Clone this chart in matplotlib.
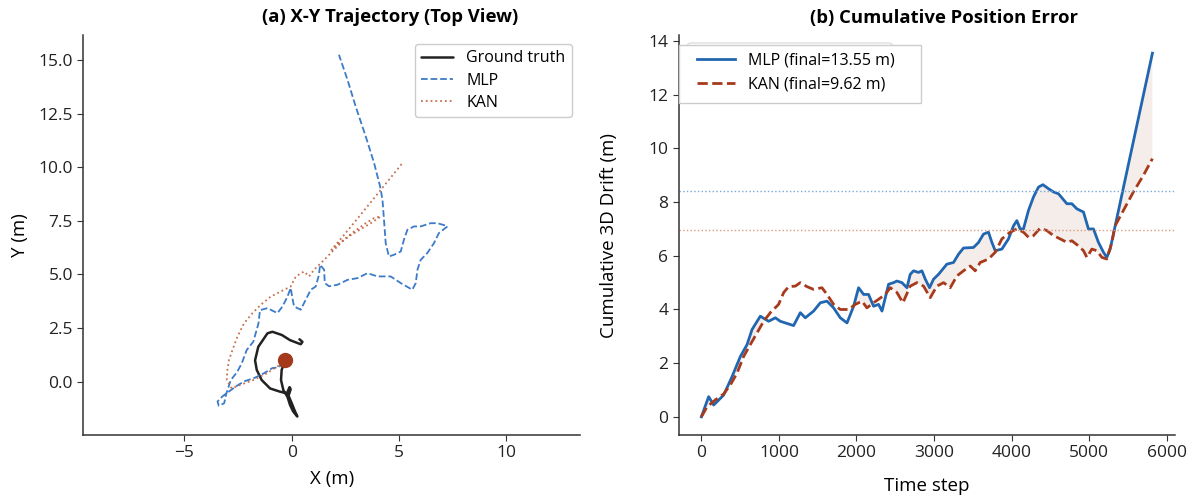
import numpy as np
import matplotlib
matplotlib.use("Agg")
import matplotlib.pyplot as plt
from matplotlib.patches import FancyBboxPatch, Rectangle

plt.rcParams['font.family'] = ['Open Sans', 'DejaVu Sans']

# ---- (a) trajectories, metres ----
gt_x = [-0.31, -0.47, -0.50, -0.39, -0.20, -0.08, 0.07, 0.26, 0.12, -0.02, -0.15, -0.05, -0.10,
        -0.23, -0.55, -1.01, -1.40, -1.63, -1.71, -1.56, -1.13, -0.90, -0.46, -0.08, 0.31, 0.42,
        0.50, 0.36]
gt_y = [1.01, 0.55, 0.08, -0.39, -0.70, -1.08, -1.39, -1.62, -1.30, -0.95, -0.65, -0.35, -0.25,
        -0.54, -0.46, -0.31, 0.08, 0.55, 1.00, 1.63, 2.26, 2.33, 2.18, 1.94, 1.79, 1.75,
        1.86, 1.98]

mlp_x = [-0.35, -0.62, -0.90, -1.29, -1.76, -2.22, -2.61, -2.92, -3.23, -3.46, -3.40, -3.15, -3.05,
         -2.84, -2.55, -2.33, -2.10, -1.79, -1.55, -1.48, -1.13, -0.67, -0.43, -0.20, -0.05, 0.05,
         0.11, 0.42, 0.65, 0.89, 1.12, 1.27, 1.32, 1.51, 1.54, 1.74, 2.13, 2.60, 3.06, 3.53, 4.00,
         4.61, 5.08, 5.62, 5.78, 5.86, 6.01, 6.32, 6.63, 6.86, 7.26, 7.10, 6.79, 6.48, 6.01, 5.70,
         5.39, 5.23, 5.08, 4.77, 4.53, 4.38, 4.30, 4.23, 4.12, 3.84, 3.45, 2.98, 2.60, 2.20]
mlp_y = [0.90, 0.67, 0.64, 0.40, 0.17, 0.02, -0.22, -0.45, -0.68, -0.92, -1.12, -1.00, -0.55,
         0.08, 0.45, 0.86, 1.48, 1.87, 2.72, 3.34, 3.43, 3.20, 3.51, 3.97, 4.37, 3.80,
         3.51, 3.36, 3.82, 4.29, 4.44, 4.99, 5.45, 5.22, 4.60, 4.45, 4.52, 4.75, 4.83, 5.06, 4.91,
         4.91, 4.60, 4.29, 4.60, 5.22, 5.68, 6.00, 6.46, 6.93, 7.24, 7.30, 7.39, 7.39, 7.24, 7.24,
         7.08, 6.62, 6.07, 5.92, 5.84, 6.46, 7.55, 8.48, 9.10, 10.19, 11.43, 12.83, 14.07, 15.24]

kan_x = [-0.40, -0.70, -1.17, -1.79, -2.41, -2.80, -3.03, -3.00, -2.92, -2.76, -2.53, -2.22, -1.83,
         -1.44, -0.98, -0.51, -0.05, 0.19, 0.57, 0.81, 1.04, 1.51, 1.97, 2.44, 2.90, 3.45, 3.84,
         4.15, 3.70, 3.20, 2.70, 2.20, 1.85, 2.28, 3.06, 3.84, 4.30, 5.16]
kan_y = [0.85, 0.70, 0.39, 0.08, -0.15, -0.31, 0.08, 0.56, 1.03, 1.49, 2.11, 2.73, 3.20,
         3.59, 3.97, 4.21, 4.44, 4.91, 5.14, 4.91, 5.22, 5.68, 6.15, 6.62, 7.00, 7.39, 7.63,
         7.70, 7.40, 7.10, 6.80, 6.45, 6.15, 6.65, 7.60, 8.56, 9.13, 10.19]

start_xy = (-0.31, 1.01)

# ---- (b) cumulative 3D drift ----
t_mlp = [0, 94, 159, 287, 396, 503, 589, 653, 760, 867, 954, 1018, 1189, 1276, 1340, 1447, 1534,
         1620, 1705, 1791, 1878, 1963, 2027, 2092, 2156, 2220, 2285, 2329, 2414, 2478, 2522, 2586,
         2651, 2693, 2736, 2800, 2844, 2887, 2942, 2994, 3058, 3166, 3251, 3316, 3380, 3509, 3574,
         3638, 3702, 3746, 3789, 3875, 3960, 4025, 4068, 4111, 4153, 4218, 4282, 4347, 4404, 4476,
         4540, 4605, 4713, 4777, 4842, 4927, 4991, 5056, 5120, 5185, 5228, 5271, 5816]
d_mlp = [0, 0.75, 0.44, 0.81, 1.50, 2.25, 2.69, 3.25, 3.75, 3.56, 3.69, 3.56, 3.40, 3.88, 3.69,
         3.94, 4.25, 4.31, 4.06, 3.69, 3.50, 4.12, 4.81, 4.56, 4.56, 4.12, 4.19, 3.94, 4.94, 5.00,
         5.06, 5.00, 4.81, 5.31, 5.44, 5.38, 5.44, 5.13, 4.81, 5.13, 5.31, 5.69, 5.75, 6.06, 6.29,
         6.31, 6.50, 6.81, 6.88, 6.50, 6.19, 6.25, 6.63, 7.12, 7.31, 7.00, 7.00, 7.69, 8.19, 8.56,
         8.65, 8.50, 8.38, 8.31, 7.94, 7.94, 7.75, 7.63, 7.00, 7.00, 6.50, 6.13, 5.94, 6.25, 13.55]

t_kan = [0, 73, 180, 287, 374, 460, 545, 631, 718, 803, 889, 996, 1061, 1125, 1211, 1276, 1362,
         1447, 1555, 1620, 1705, 1791, 1898, 1985, 2071, 2135, 2220, 2285, 2371, 2436, 2522, 2599,
         2693, 2780, 2865, 2951, 3037, 3123, 3209, 3295, 3380, 3467, 3531, 3595, 3702, 3789, 3875,
         3982, 4068, 4153, 4218, 4282, 4369, 4455, 4540, 4627, 4713, 4777, 4862, 4927, 4971, 5035,
         5099, 5164, 5228, 5293, 5335, 5442, 5571, 5700, 5816]
d_kan = [0, 0.37, 0.63, 0.85, 1.19, 1.63, 2.25, 2.69, 3.13, 3.56, 3.88, 4.19, 4.63, 4.85, 4.87,
         5.00, 4.85, 4.75, 4.81, 4.56, 4.19, 4.00, 4.00, 4.19, 4.31, 4.06, 4.25, 4.38, 4.56, 4.81,
         4.63, 4.25, 4.87, 5.00, 4.87, 4.44, 4.87, 5.00, 4.81, 5.25, 5.44, 5.62, 5.44, 5.75, 5.88,
         6.13, 6.63, 6.88, 7.00, 6.88, 6.69, 6.75, 7.03, 6.94, 6.75, 6.63, 6.50, 6.56, 6.37, 6.19,
         5.94, 6.25, 6.19, 5.94, 5.88, 6.50, 7.12, 7.69, 8.38, 9.00, 9.62]

ref_mlp = 8.40
ref_kan = 6.97

c_mlp = '#2166b0'
c_kan = '#a83a1c'

fig = plt.figure(figsize=(11.97, 5.0), dpi=100)

# ---------------- (a) ----------------
ax1 = fig.add_axes([0.0697, 0.13, 0.4149, 0.80])
ax1.plot(gt_x, gt_y, color='#222222', lw=1.8, label='Ground truth', solid_capstyle='round')
ax1.plot(mlp_x, mlp_y, color='#3b7bc8', lw=1.3, ls='--', label='MLP')
ax1.plot(kan_x, kan_y, color='#c5704f', lw=1.3, ls=':', label='KAN')
ax1.plot(*start_xy, 'o', color='#a3391a', ms=10, zorder=5)
ax1.set_xlim(-9.71, 13.44)
ax1.set_ylim(-2.48, 16.16)
ax1.set_xticks([-5, 0, 5, 10])
ax1.set_yticks([0, 2.5, 5, 7.5, 10, 12.5, 15])
ax1.set_yticklabels(['0.0', '2.5', '5.0', '7.5', '10.0', '12.5', '15.0'])
ax1.set_xlabel('X (m)', fontsize=13.5, labelpad=6)
ax1.set_ylabel('Y (m)', fontsize=13.5, labelpad=7)
ax1.set_title('(a) X-Y Trajectory (Top View)', fontsize=13.3, fontweight='bold', x=0.617, pad=9)
ax1.legend(loc='upper right', bbox_to_anchor=(0.999, 0.998), fontsize=11.5, handlelength=2.0,
           labelspacing=0.4, framealpha=1, edgecolor='#cccccc')

# ---------------- (b) ----------------
ax2 = fig.add_axes([0.5671, 0.13, 0.4145, 0.80])
ax2.plot(t_mlp, d_mlp, color=c_mlp, lw=2, label='MLP (final=13.55 m)')
ax2.plot(t_kan, d_kan, color=c_kan, lw=2, ls='--', label='KAN (final=9.62 m)')
t_all = np.union1d(t_mlp, t_kan)
m_all = np.interp(t_all, t_mlp, d_mlp)
k_all = np.interp(t_all, t_kan, d_kan)
ax2.fill_between(t_all, k_all, m_all, where=m_all >= k_all, interpolate=True,
                 color='#a0522d', alpha=0.1, lw=0)
ax2.axhline(ref_mlp, color='#7aa7dc', lw=1, ls=':')
ax2.axhline(ref_kan, color='#dc9a80', lw=1, ls=':')
ax2.set_xticks([0, 1000, 2000, 3000, 4000, 5000, 6000])
ax2.set_yticks([0, 2, 4, 6, 8, 10, 12, 14])
ax2.set_xlabel('Time step', fontsize=13.5, labelpad=11)
ax2.set_ylabel('Cumulative 3D Drift (m)', fontsize=13.5, labelpad=22)
ax2.set_title('(b) Cumulative Position Error', fontsize=13.3, fontweight='bold', x=0.534, pad=9)

# legend frames: a rounded one peeking out behind a square one
back = FancyBboxPatch((0.0165, 0.85), 0.415, 0.13, boxstyle='round,pad=0,rounding_size=0.01',
                      transform=ax2.transAxes, facecolor='white', edgecolor='#dddddd', lw=1,
                      zorder=3, clip_on=False)
ax2.add_patch(back)
front = Rectangle((0.0, 0.83), 0.488, 0.145, transform=ax2.transAxes, facecolor='white',
                  edgecolor='#cccccc', lw=1, zorder=3.5, clip_on=False)
ax2.add_patch(front)
leg = ax2.legend(loc='upper left', bbox_to_anchor=(0.024, 0.9725), borderaxespad=0,
                 fontsize=11.5, handlelength=2.4, frameon=False)
leg.set_zorder(4)

for ax in (ax1, ax2):
    ax.spines['top'].set_visible(False)
    ax.spines['right'].set_visible(False)
    for s in ('left', 'bottom'):
        ax.spines[s].set_color('#333333')
        ax.spines[s].set_linewidth(1.1)
    ax.tick_params(labelsize=12.5, color='#333333', labelcolor='#222222', length=4)

fig.savefig('out.png', dpi=100)
